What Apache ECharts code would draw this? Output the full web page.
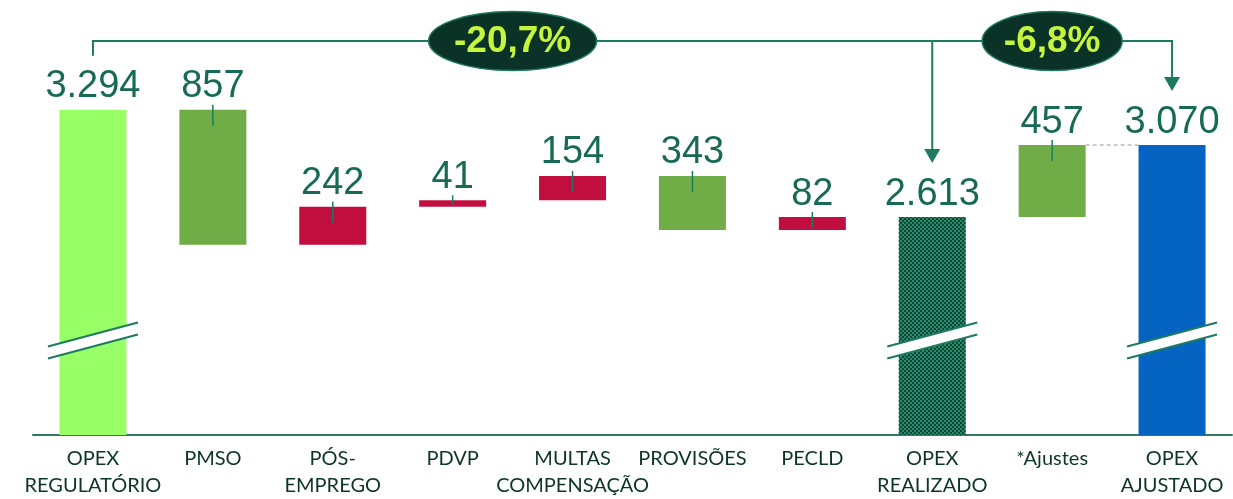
<!DOCTYPE html>
<html>
<head>
<meta charset="utf-8">
<script src="https://cdn.jsdelivr.net/npm/echarts@6/dist/echarts.min.js"></script>
<style>
  html, body { margin: 0; padding: 0; background: #fff; }
  #chart { width: 1233px; height: 499px; }
</style>
</head>
<body>
<div id="chart"></div>
<script>
// categories and changes, totals marked separately
const categories = ['OPEX\nREGULATÓRIO', 'PMSO', 'PÓS-\nEMPREGO', 'PDVP', 'MULTAS\nCOMPENSAÇÃO', 'PROVISÕES', 'PECLD', 'OPEX\nREALIZADO', '*Ajustes', 'OPEX\nAJUSTADO']
const changes = [3294, -857, 242, 41, 154, -343, 82, 2613, 457, 3070]
const isTotal = [true, false, false, false, false, false, false, true, false, true]
const barColors = ['#99ff66', '#70ad47', '#c20e3f', '#c20e3f', '#c20e3f', '#70ad47', '#c20e3f', 'hatch', '#70ad47', '#0563c1']

// broken value axis
const axisMin = 1230
const axisMax = 3730
const breakValue = 1830

const lineColor = '#1d7a60'

function fmt(v) {
  return String(Math.abs(v)).replace(/\B(?=(\d{3})+(?!\d))/g, '.')
}
function pct(from, to) {
  return ((to / from - 1) * 100).toFixed(1).replace('.', ',') + '%'
}

// waterfall base / height
const lows = []
const heights = []
const tops = []
let running = 0
changes.forEach((v, i) => {
  if (isTotal[i]) {
    lows.push(0)
    heights.push(v)
    running = v
  } else if (v > 0) {
    lows.push(running)
    heights.push(v)
    running += v
  } else {
    running += v
    lows.push(running)
    heights.push(-v)
  }
  tops.push(lows[i] + heights[i])
})

// checker pattern for OPEX REALIZADO
const hatch = document.createElement('canvas')
hatch.width = 4
hatch.height = 4
const hctx = hatch.getContext('2d')
hctx.fillStyle = '#0b4636'
hctx.fillRect(0, 0, 4, 4)
hctx.fillStyle = '#2a8a69'
hctx.fillRect(0, 0, 2, 2)
hctx.fillRect(2, 2, 2, 2)

const chart = echarts.init(document.getElementById('chart'))

function renderOverlay(params, api) {
  const children = []
  const half = 33.5
  // leader lines
  for (let i = 0; i < categories.length; i++) {
    if (isTotal[i]) continue
    const t = api.coord([i, tops[i]])
    const b = api.coord([i, lows[i]])
    children.push({
      type: 'line',
      shape: { x1: t[0], y1: t[1] - 5, x2: t[0], y2: Math.min(t[1] + 16, b[1] - 2) },
      style: { stroke: lineColor, lineWidth: 1.5 }
    })
  }
  // axis break marks
  for (let i = 0; i < categories.length; i++) {
    if (!isTotal[i]) continue
    const c = api.coord([i, breakValue])
    const x1 = c[0] - 45
    const x2 = c[0] + 45
    children.push({
      type: 'polygon',
      shape: { points: [[x1, c[1] + 6], [x2, c[1] - 18], [x2, c[1] - 6], [x1, c[1] + 18]] },
      style: { fill: '#fff' }
    })
    children.push({
      type: 'line',
      shape: { x1: x1, y1: c[1] + 6, x2: x2, y2: c[1] - 18 },
      style: { stroke: lineColor, lineWidth: 2 }
    })
    children.push({
      type: 'line',
      shape: { x1: x1, y1: c[1] + 18, x2: x2, y2: c[1] - 6 },
      style: { stroke: lineColor, lineWidth: 2 }
    })
  }
  // dashed link Ajustes -> OPEX AJUSTADO
  const a = api.coord([8, tops[8]])
  const z = api.coord([9, tops[9]])
  children.push({
    type: 'line',
    shape: { x1: a[0] + half, y1: a[1], x2: z[0] - half, y2: z[1] },
    style: { stroke: '#999', lineWidth: 1, lineDash: [4, 3] }
  })
  // brackets
  const yTop = api.coord([0, axisMax])[1]
  const p0 = api.coord([0, tops[0]])
  const p7 = api.coord([7, tops[7]])
  const p9 = api.coord([9, tops[9]])
  const tip7 = p7[1] - 54
  const tip9 = p9[1] - 54
  children.push({
    type: 'polyline',
    shape: { points: [[p0[0], p0[1] - 54], [p0[0], yTop], [p9[0], yTop], [p9[0], tip9 - 13]] },
    style: { stroke: lineColor, lineWidth: 2, fill: null }
  })
  children.push({
    type: 'line',
    shape: { x1: p7[0], y1: yTop, x2: p7[0], y2: tip7 - 13 },
    style: { stroke: lineColor, lineWidth: 2 }
  })
  ;[[p7[0], tip7], [p9[0], tip9]].forEach(p => {
    children.push({
      type: 'polygon',
      shape: { points: [[p[0] - 8, p[1] - 14], [p[0] + 8, p[1] - 14], [p[0], p[1]]] },
      style: { fill: lineColor }
    })
  })
  // percentage bubbles
  const bubbles = [
    { cx: (p0[0] + p7[0]) / 2, rx: 84, text: pct(changes[0], changes[7]) },
    { cx: (p7[0] + p9[0]) / 2, rx: 70, text: pct(changes[0], changes[9]) }
  ]
  bubbles.forEach(bb => {
    children.push({
      type: 'ellipse',
      shape: { cx: bb.cx, cy: yTop, rx: bb.rx, ry: 29.5 },
      style: { fill: '#0b3226', stroke: lineColor, lineWidth: 1.5 }
    })
    children.push({
      type: 'text',
      x: bb.cx,
      y: yTop + 1,
      style: {
        text: bb.text,
        fill: '#c6f53e',
        font: 'bold 37px "Liberation Sans", Arial, sans-serif',
        align: 'center',
        verticalAlign: 'middle'
      }
    })
  })
  return { type: 'group', children: children }
}

chart.setOption({
  animation: false,
  grid: {
    left: 33,
    right: 1,
    top: 41,
    bottom: 62
  },
  xAxis: {
    type: 'category',
    data: categories,
    axisTick: { show: false },
    axisLine: {
      lineStyle: { color: '#2d7d63', width: 2 }
    },
    axisLabel: {
      interval: 0,
      margin: 10,
      color: '#0c3428',
      fontFamily: 'Lato',
      fontSize: 20,
      lineHeight: 27
    }
  },
  yAxis: {
    type: 'value',
    min: axisMin,
    max: axisMax,
    show: false,
    splitLine: { show: false }
  },
  series: [
    {
      name: 'base',
      type: 'bar',
      stack: 'wf',
      barWidth: 67,
      itemStyle: { color: 'transparent' },
      data: lows,
      silent: true
    },
    {
      name: 'valor',
      type: 'bar',
      stack: 'wf',
      barWidth: 67,
      data: heights.map((h, i) => ({
        value: h,
        itemStyle: {
          color: barColors[i] === 'hatch' ? { image: hatch, repeat: 'repeat' } : barColors[i]
        }
      })),
      label: {
        show: true,
        position: 'top',
        distance: 4,
        color: '#176a55',
        fontFamily: '"Liberation Sans", Arial, sans-serif',
        fontSize: 38,
        lineHeight: 38,
        formatter: p => fmt(changes[p.dataIndex])
      }
    },
    {
      type: 'custom',
      renderItem: renderOverlay,
      data: [[0, axisMin]],
      z: 10,
      silent: true
    }
  ]
})
</script>
</body>
</html>
